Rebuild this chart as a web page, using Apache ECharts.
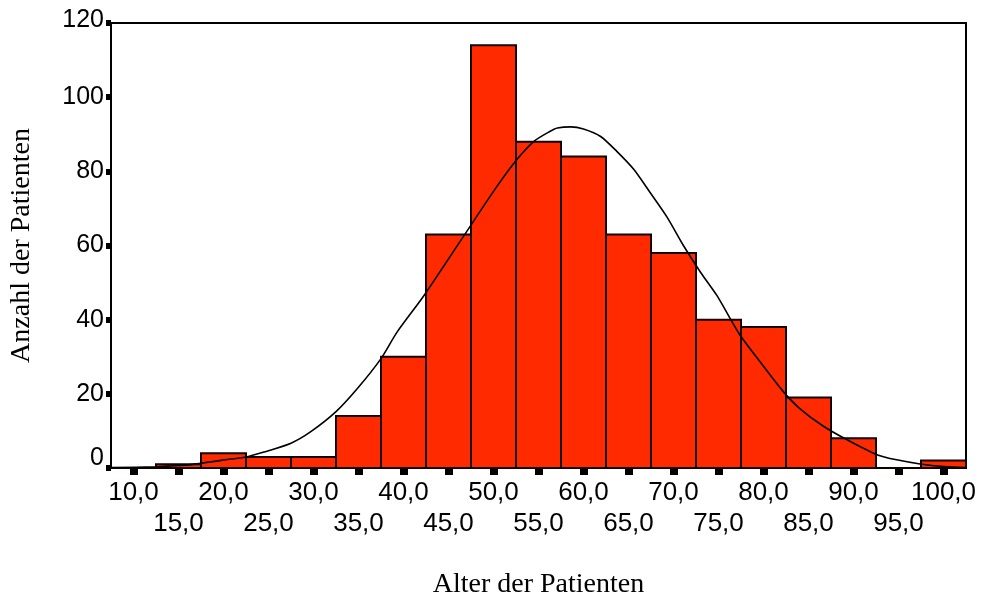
<!DOCTYPE html>
<html>
<head>
<meta charset="utf-8">
<script src="https://cdn.jsdelivr.net/npm/echarts@6/dist/echarts.min.js"></script>
<style>
html,body{margin:0;padding:0;background:#fff;}
#chart{width:989px;height:604px;}
</style>
</head>
<body>
<div id="chart"></div>
<script>
// Histogram bins (centers) and patient counts
const binCenters = [10,15,20,25,30,35,40,45,50,55,60,65,70,75,80,85,90,95,100];
const counts     = [0, 1, 4, 3, 3, 14,30,63,114,88,84,63,58,40,38,19,8, 0, 2];
const binWidth = 5;

// Normal curve
const curveX = [7.5,12.5,13.8,16.4,20.1,22.4,24.5,27.5,29.7,32.5,34.9,37.5,39.3,42.3,46.7,50.4,52.6,54.5,56.3,57.1,58.6,60.0,61.9,63.7,65.6,67.4,69.3,71.1,73.0,74.8,76.3,77.4,79.6,82.2,84.0,86.7,89.3,92.6,94.8,97.4,100,102.5];
const curveY = [0.1,0.3,0.5,0.9,2.2,2.9,4.3,6.7,9.8,15.2,21.5,29.5,36.7,46.6,62.6,76,83.2,88.1,90.8,91.7,92,91.4,89.4,85.4,80.5,74.3,67.6,60.0,52.8,46.6,40.3,35.8,28.7,20.6,16.1,11.2,7.6,3.6,2.2,1.1,0.4,0.1];

// Axis ticks and labels
const xTicks = [10,15,20,25,30,35,40,45,50,55,60,65,70,75,80,85,90,95,100];
const xLabelsRow1 = [10,20,30,40,50,60,70,80,90,100];
const xLabelsRow2 = [15,25,35,45,55,65,75,85,95];
const yTicks = [0,20,40,60,80,100,120];

const fmtX = v => v.toFixed(1).replace('.', ',');
const xMin = 7.5, xMax = 102.5;
const labelFont = {fontFamily: 'Liberation Sans', fontSize: 26, color: '#000'};

const chart = echarts.init(document.getElementById('chart'), null, {renderer:'canvas'});
chart.setOption({
  animation: false,
  backgroundColor: '#fff',
  grid: {left: 110, top: 23, width: 856, height: 447.5, show: true, borderColor: '#000', borderWidth: 2, backgroundColor: 'transparent'},
  xAxis: [{
    type: 'value', min: xMin, max: xMax, position: 'bottom',
    name: 'Alter der Patienten', nameLocation: 'middle', nameGap: 103,
    nameTextStyle: {fontFamily: 'Liberation Serif', fontSize: 28, color: '#000'},
    axisLine: {show: true, lineStyle: {color: '#000', width: 2}},
    axisTick: {show: true, customValues: xTicks, length: 7, lineStyle: {color: '#000', width: 8}},
    axisLabel: Object.assign({customValues: xLabelsRow1, formatter: fmtX, showMinLabel: true, showMaxLabel: true, margin: 12}, labelFont),
    splitLine: {show: false}
  }, {
    type: 'value', min: xMin, max: xMax, position: 'bottom', offset: 0,
    axisLine: {show: false},
    axisTick: {show: false},
    axisLabel: Object.assign({customValues: xLabelsRow2, formatter: fmtX, showMinLabel: true, showMaxLabel: true, margin: 43}, labelFont),
    splitLine: {show: false}
  }],
  yAxis: {
    type: 'value', min: 0, max: 120, interval: 20,
    name: 'Anzahl der Patienten', nameLocation: 'middle', nameGap: 75,
    nameTextStyle: {fontFamily: 'Liberation Serif', fontSize: 28, color: '#000'},
    axisLine: {show: true, lineStyle: {color: '#000', width: 2}},
    axisTick: {show: true, length: 5, lineStyle: {color: '#000', width: 6}},
    axisLabel: {
      fontFamily: 'Liberation Sans', fontSize: 25, color: '#000', margin: 7,
      showMinLabel: true, showMaxLabel: true,
      formatter: v => v === 0 ? '{z|0}' : (v === 120 ? '{t|120}' : String(v)),
      rich: {
        z: {fontFamily: 'Liberation Sans', fontSize: 25, color: '#000', padding: [0,0,20,0]},
        t: {fontFamily: 'Liberation Sans', fontSize: 25, color: '#000', padding: [0,0,6,0]}
      }
    },
    splitLine: {show: false}
  },
  series: [
    {
      type: 'custom',
      xAxisIndex: 0,
      data: binCenters.map((c, i) => [c, counts[i]]),
      renderItem: (params, api) => {
        const c = api.value(0), n = api.value(1);
        const p1 = api.coord([c - binWidth/2, n]);
        const p2 = api.coord([c + binWidth/2, 0]);
        return {
          type: 'rect',
          shape: {x: p1[0], y: p1[1], width: p2[0]-p1[0], height: p2[1]-p1[1]},
          style: {fill: '#ff2a00', stroke: '#120000', lineWidth: 2}
        };
      },
      z: 2
    },
    {
      type: 'line',
      xAxisIndex: 0,
      data: curveX.map((x, i) => [x, curveY[i]]),
      smooth: 0.25,
      symbol: 'none',
      lineStyle: {color: '#000', width: 1.6},
      z: 3
    }
  ]
});
</script>
</body>
</html>
